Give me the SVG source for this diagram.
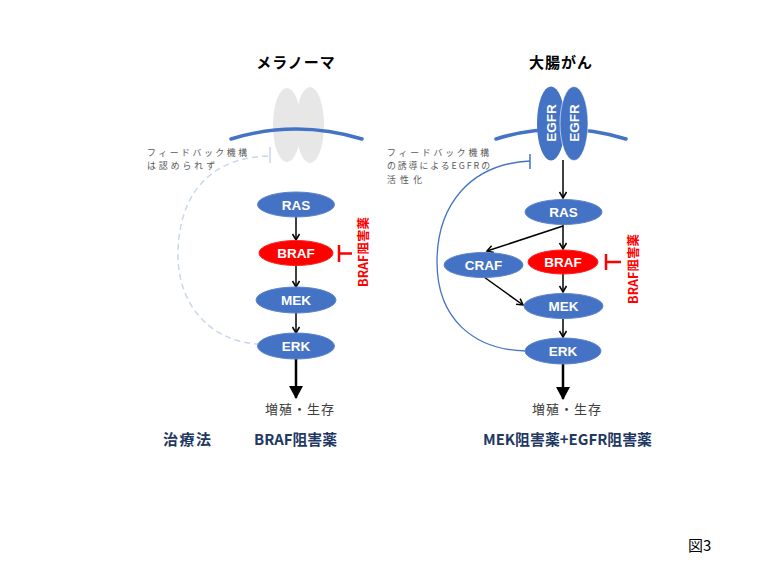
<svg xmlns="http://www.w3.org/2000/svg" width="760" height="567" viewBox="0 0 760 567">
<style>
.title{font-family:"Noto Sans CJK JP","Noto Sans",sans-serif;font-weight:bold;font-size:15px;fill:#000;text-anchor:middle}
.node{fill:#4472c4;stroke:#5b83cc;stroke-width:1}
.red{fill:#ff0000;stroke:#ff2020;stroke-width:1}
.lbl{font-family:"Liberation Sans",Arial,sans-serif;font-weight:bold;font-size:13.5px;fill:#fff;text-anchor:middle}
.fb{font-family:"Noto Sans CJK JP",sans-serif;font-size:8.9px;fill:#595959}
.out{font-family:"Noto Sans CJK JP",sans-serif;font-size:13px;fill:#404040;text-anchor:middle}
.drug{font-family:"Noto Sans CJK JP",sans-serif;font-weight:bold;font-size:12.5px;fill:#ff0000;text-anchor:middle}
.tx{font-family:"Noto Sans CJK JP",sans-serif;font-weight:bold;font-size:15px;fill:#1f3864}
.thin{stroke:#000;stroke-width:1.5;fill:none;marker-end:url(#v)}
.big{stroke:#000;stroke-width:2.5;fill:none;marker-end:url(#tri)}
.mem{stroke:#4472c4;stroke-width:3.5;fill:none;stroke-linecap:round}
.tbar{stroke:#ff0000;stroke-width:2.5;fill:none}
</style>
<defs>
<marker id="v" markerWidth="10" markerHeight="10" refX="7" refY="4" orient="auto" markerUnits="userSpaceOnUse">
<path d="M1,0.5 L7,4 L1,7.5" stroke="#000" stroke-width="1.5" fill="none"/>
</marker>
<marker id="tri" markerWidth="16" markerHeight="16" refX="12" refY="7" orient="auto" markerUnits="userSpaceOnUse">
<path d="M0,0 L13,7 L0,14 Z" fill="#000"/>
</marker>
</defs>
<rect width="760" height="567" fill="#fff"/>

<text class="title" x="296" y="68" letter-spacing="1">メラノーマ</text>
<text class="title" x="561" y="68" letter-spacing="1">大腸がん</text>

<g id="receptor-left">
<ellipse cx="287" cy="125" rx="14" ry="37" fill="#e7e7e7"/>
<ellipse cx="310" cy="125" rx="14" ry="38" fill="#e7e7e7"/>
</g>
<g id="membrane-left">
<path class="mem" d="M231,139 Q296,119 362,139"/>
</g>

<g id="membrane-right">
<path class="mem" d="M496,139 Q561,119 626,139"/>
</g>
<g id="egfr">
<ellipse cx="551" cy="123.5" rx="14" ry="37" fill="#4472c4"/>
<ellipse cx="574" cy="123.5" rx="14" ry="37" fill="#4472c4" stroke="#fff" stroke-width="0.6"/>
<text class="lbl" font-size="14" transform="translate(556,123) rotate(-90)">EGFR</text>
<text class="lbl" font-size="14" transform="translate(579,123) rotate(-90)">EGFR</text>
</g>

<g id="connectors">
<path d="M268,156 C205,158 178,200 178,255 C178,305 210,341 258,344" stroke="#c9d6ee" stroke-width="1.5" fill="none" stroke-dasharray="6,4"/>
<path d="M270,147 V163" stroke="#c9d6ee" stroke-width="1.5"/>
<path d="M530,161 C470,164 437,205 437,262 C437,320 475,350 526,351" stroke="#4472c4" stroke-width="1.3" fill="none"/>
<path d="M530,154 V169" stroke="#4472c4" stroke-width="1.5"/>

<path class="thin" d="M296,217 V240"/>
<path class="thin" d="M296,266 V287"/>
<path class="thin" d="M296,313 V333"/>
<path class="big" d="M296,359 V398"/>

<path class="thin" d="M563,160 V198"/>
<path class="thin" d="M563,224 V249"/>
<path class="thin" d="M563,226 L487,251"/>
<path class="thin" d="M484,277 L523,305"/>
<path class="thin" d="M563,274 V292"/>
<path class="thin" d="M563,319 V337"/>
<path class="big" d="M563,364 V399"/>

<path class="tbar" d="M339,245 V262 M339,253.5 H352"/>
<path class="tbar" d="M606,254 V270 M606,262 H621"/>
</g>

<g id="ras-l"><ellipse class="node" cx="296" cy="204.5" rx="38.5" ry="12.5"/><text class="lbl" x="296" y="209.5">RAS</text></g>
<g id="braf-l"><ellipse class="red" cx="296" cy="253" rx="37" ry="12.5"/><text class="lbl" x="296" y="258">BRAF</text></g>
<g id="mek-l"><ellipse class="node" cx="296" cy="300" rx="40" ry="13"/><text class="lbl" x="296" y="305">MEK</text></g>
<g id="erk-l"><ellipse class="node" cx="296" cy="346" rx="38.5" ry="13"/><text class="lbl" x="296" y="351">ERK</text></g>

<g id="ras-r"><ellipse class="node" cx="563.5" cy="212" rx="38.5" ry="12.5"/><text class="lbl" x="563.5" y="217">RAS</text></g>
<g id="braf-r"><ellipse class="red" cx="563" cy="262" rx="35" ry="12"/><text class="lbl" x="563" y="267">BRAF</text></g>
<g id="craf-r"><ellipse class="node" cx="483.5" cy="265" rx="39.5" ry="12.5"/><text class="lbl" x="483.5" y="270">CRAF</text></g>
<g id="mek-r"><ellipse class="node" cx="563.5" cy="306" rx="39.5" ry="12.5"/><text class="lbl" x="563.5" y="311">MEK</text></g>
<g id="erk-r"><ellipse class="node" cx="563" cy="351" rx="38" ry="13"/><text class="lbl" x="563" y="356">ERK</text></g>

<text class="drug" transform="translate(368,252) rotate(-90)">BRAF阻害薬</text>
<text class="drug" transform="translate(638,269) rotate(-90)">BRAF阻害薬</text>

<text class="fb" x="147" y="156" textLength="100" lengthAdjust="spacing">フィードバック機構</text>
<text class="fb" x="147" y="169.3" textLength="68" lengthAdjust="spacing">は認められず</text>
<text class="fb" x="387" y="156" textLength="102" lengthAdjust="spacing">フィードバック機構</text>
<text class="fb" x="387" y="169.3" textLength="103" lengthAdjust="spacing">の誘導によるEGFRの</text>
<text class="fb" x="387" y="182.6" textLength="35" lengthAdjust="spacing">活性化</text>

<text class="out" x="300" y="414" letter-spacing="1">増殖・生存</text>
<text class="out" x="567" y="414" letter-spacing="1">増殖・生存</text>

<text class="tx" x="163" y="445" textLength="48" lengthAdjust="spacing">治療法</text>
<text class="tx" x="254" y="445" textLength="83" lengthAdjust="spacingAndGlyphs">BRAF阻害薬</text>
<text class="tx" x="483" y="445" textLength="169" lengthAdjust="spacingAndGlyphs">MEK阻害薬+EGFR阻害薬</text>

<text x="688" y="551" font-family="Noto Sans CJK JP,sans-serif" font-size="15" fill="#000">図3</text>
</svg>
